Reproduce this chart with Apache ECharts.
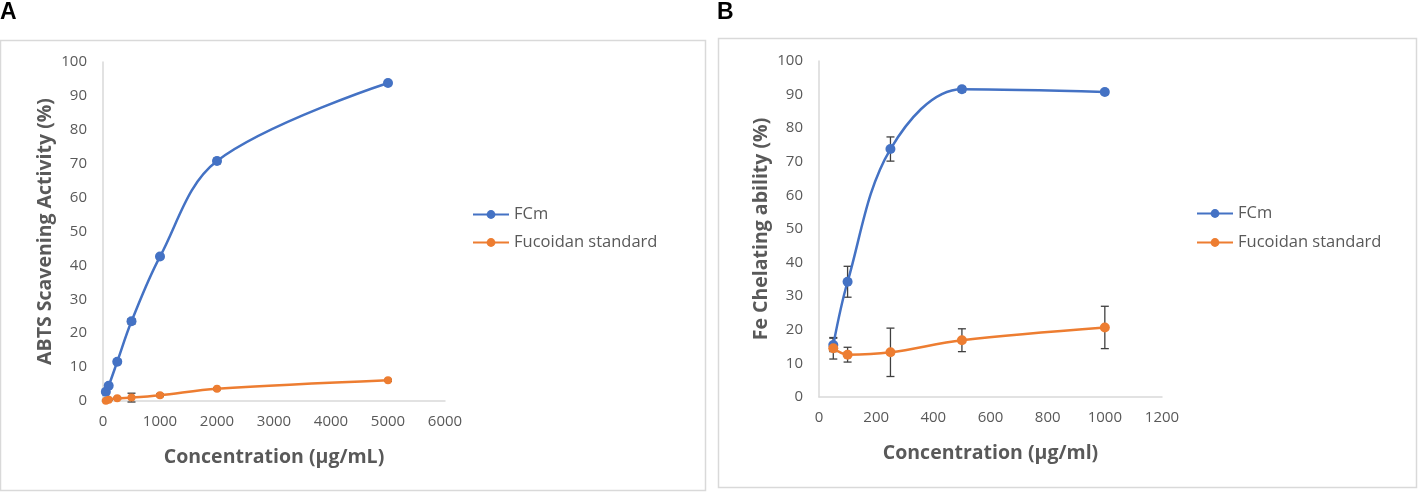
<!DOCTYPE html>
<html><head><meta charset="utf-8">
<script src="https://cdn.jsdelivr.net/npm/echarts@6/dist/echarts.min.js"></script>
<style>html,body{margin:0;padding:0;background:#fff}#c{width:1418px;height:493px}</style>
</head><body><div id="c"></div>
<script>
// Panel A data
const aX = [50, 100, 250, 500, 1000, 2000, 5000];
const aFCm = [2.7, 4.5, 11.6, 23.5, 42.6, 70.8, 93.8];
const aFCmErr = [0.5, 0.5, 0.6, 0.8, 0.6, 0.8, 0.5];
const aFuc = [0.1, 0.4, 0.8, 1.0, 1.7, 3.6, 6.1];
const aFucErr = [0.2, 0.2, 0.3, 1.3, 0.4, 0.3, 0.3];
// Panel B data
const bX = [50, 100, 250, 500, 1000];
const bFCm = [15.5, 34.3, 73.8, 91.6, 90.8];
const bFCmErr = [2.0, 4.6, 3.6, 0.8, 0.7];
const bFuc = [14.5, 12.6, 13.3, 16.9, 20.7];
const bFucErr = [3.2, 2.2, 7.2, 3.4, 6.3];
// tick labels
const aXTicks = [0, 1000, 2000, 3000, 4000, 5000, 6000];
const bXTicks = [0, 200, 400, 600, 800, 1000, 1200];
const yTicks = [0, 10, 20, 30, 40, 50, 60, 70, 80, 90, 100];

const BLUE = '#4472C4', ORANGE = '#ED7D31', GRAY = '#595959', AX = '#d9d9d9';
const FONT = 'Open Sans';

function pts(xs, ys) { return xs.map((x, i) => [x, ys[i]]); }
function errs(xs, ys, es) { return xs.map((x, i) => [x, ys[i] - es[i], ys[i] + es[i]]); }

function errSeries(idx, data) {
  return {
    type: 'custom', xAxisIndex: idx, yAxisIndex: idx, z: 1, silent: true,
    data: data,
    encode: { x: 0, y: [1, 2] },
    renderItem: function (params, api) {
      const x = api.value(0);
      const lo = api.coord([x, api.value(1)]);
      const hi = api.coord([x, api.value(2)]);
      const w = 4;
      const st = { stroke: '#404040', lineWidth: 1.3 };
      return {
        type: 'group', children: [
          { type: 'line', shape: { x1: lo[0], y1: lo[1], x2: hi[0], y2: hi[1] }, style: st },
          { type: 'line', shape: { x1: lo[0] - w, y1: lo[1], x2: lo[0] + w, y2: lo[1] }, style: st },
          { type: 'line', shape: { x1: hi[0] - w, y1: hi[1], x2: hi[0] + w, y2: hi[1] }, style: st }
        ]
      };
    }
  };
}

function xAxis(idx, ticks, name) {
  return {
    gridIndex: idx, type: 'value', min: ticks[0], max: ticks[ticks.length - 1],
    interval: ticks[1] - ticks[0],
    name: name, nameLocation: 'middle', nameGap: 46,
    nameTextStyle: { color: GRAY, fontFamily: FONT, fontWeight: 'bold', fontSize: 19.5 },
    axisLine: { show: true, lineStyle: { color: AX, width: 1.5 } },
    axisTick: { show: false }, splitLine: { show: false },
    axisLabel: { color: GRAY, fontFamily: FONT, fontSize: 15, margin: 13, formatter: v => String(v) }
  };
}
function yAxis(idx, name, gap) {
  return {
    gridIndex: idx, type: 'value', min: yTicks[0], max: yTicks[yTicks.length - 1],
    interval: yTicks[1] - yTicks[0],
    name: name, nameLocation: 'middle', nameGap: gap, nameRotate: 90,
    nameTextStyle: { color: GRAY, fontFamily: FONT, fontWeight: 'bold', fontSize: 19.5 },
    axisLine: { show: true, lineStyle: { color: AX, width: 1.5 } },
    axisTick: { show: false }, splitLine: { show: false },
    axisLabel: { color: GRAY, fontFamily: FONT, fontSize: 15, margin: 16, formatter: v => String(v) }
  };
}
function lineSeries(idx, name, data, color, size) {
  return {
    type: 'line', name: name, xAxisIndex: idx, yAxisIndex: idx, z: 3,
    data: data, smooth: 0.35, symbol: 'circle', symbolSize: size,
    itemStyle: { color: color }, lineStyle: { color: color, width: 2.5 }
  };
}

const chart = echarts.init(document.getElementById('c'));
chart.setOption({
  animation: false,
  backgroundColor: '#fff',
  graphic: [
    { type: 'rect', shape: { x: 0.5, y: 40.5, width: 705, height: 450 }, style: { fill: 'none', stroke: '#d9d9d9', lineWidth: 1.5 }, z: -1 },
    { type: 'rect', shape: { x: 718.5, y: 38.5, width: 698, height: 449 }, style: { fill: 'none', stroke: '#d9d9d9', lineWidth: 1.5 }, z: -1 },
    { type: 'text', left: 0, top: 1, style: { text: 'A', font: 'bold 23px "Liberation Sans"', fill: '#000' } },
    { type: 'text', left: 717, top: 1, style: { text: 'B', font: 'bold 23px "Liberation Sans"', fill: '#000' } }
  ],
  grid: [
    { left: 103, top: 62, width: 342, height: 339 },
    { left: 819, top: 61, width: 343, height: 336 }
  ],
  xAxis: [xAxis(0, aXTicks, 'Concentration (µg/mL)'), xAxis(1, bXTicks, 'Concentration (µg/ml)')],
  yAxis: [yAxis(0, 'ABTS Scavening Activity (%)', 48), yAxis(1, 'Fe Chelating ability (%)', 48)],
  legend: [
    { data: ['FCm', 'Fucoidan standard'], left: 467, top: 201, orient: 'vertical', itemGap: 11, itemWidth: 36, itemHeight: 11,
      textStyle: { color: GRAY, fontFamily: FONT, fontSize: 16.5 } },
    { data: ['FCm ', 'Fucoidan standard '], left: 1191, top: 200, orient: 'vertical', itemGap: 12, itemWidth: 36, itemHeight: 11,
      textStyle: { color: GRAY, fontFamily: FONT, fontSize: 16.5 } }
  ],
  series: [
    lineSeries(0, 'FCm', pts(aX, aFCm), BLUE, 10),
    lineSeries(0, 'Fucoidan standard', pts(aX, aFuc), ORANGE, 8),
    errSeries(0, errs(aX, aFCm, aFCmErr)),
    errSeries(0, errs(aX, aFuc, aFucErr)),
    lineSeries(1, 'FCm ', pts(bX, bFCm), BLUE, 10),
    lineSeries(1, 'Fucoidan standard ', pts(bX, bFuc), ORANGE, 10),
    errSeries(1, errs(bX, bFCm, bFCmErr)),
    errSeries(1, errs(bX, bFuc, bFucErr))
  ]
});
</script></body></html>
